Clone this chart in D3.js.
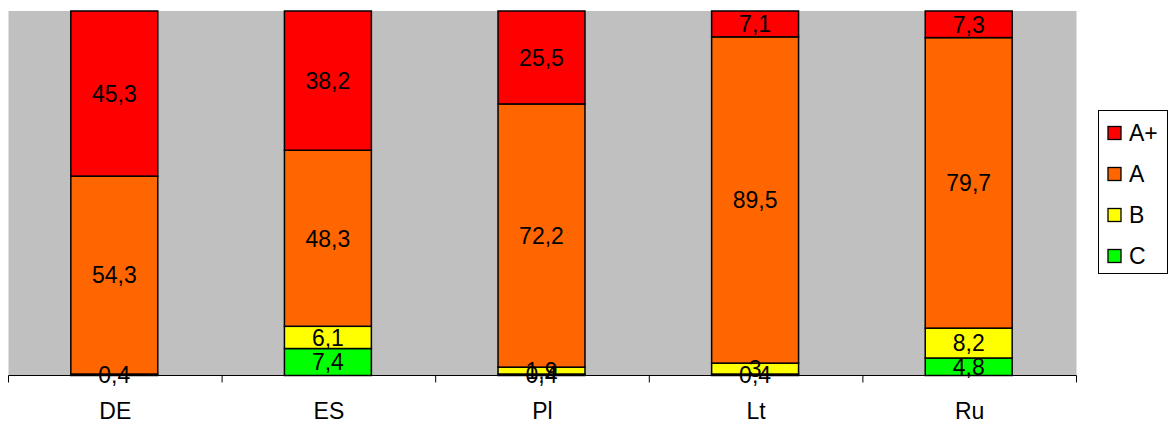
<!DOCTYPE html>
<html><head><meta charset="utf-8">
<script src="https://cdn.jsdelivr.net/npm/d3@7"></script>
<style>body{margin:0;background:#fff}svg{display:block}text{font-family:"Liberation Sans",Arial,sans-serif}</style>
</head><body>
<svg id="c" width="1169" height="424"></svg>
<script>
const categories = ["DE","ES","Pl","Lt","Ru"];
const seriesNames = ["C","B","A","A+"];
const valC  = [0,   7.4, 0.4, 0.4, 4.8];
const valB  = [0.4, 6.1, 1.9, 3,   8.2];
const valA  = [54.3,48.3,72.2,89.5,79.7];
const valAp = [45.3,38.2,25.5,7.1, 7.3];
const colors = {"A+":"#FF0000","A":"#FF6600","B":"#FFFF00","C":"#00FF00"};
const legendOrder = ["A+","A","B","C"];

const rows = categories.map((c,i)=>({cat:c,"C":valC[i],"B":valB[i],"A":valA[i],"A+":valAp[i]}));
const svg = d3.select("#c");
const L=8.5,R=1076.5,T=11,B=375.5;
const FS=23;
const x = d3.scaleBand().domain(categories).range([L,R]).paddingInner(0.593).paddingOuter(0.2965);
const y = d3.scaleLinear().domain([0,100]).range([B,T]);

svg.append("rect").attr("x",L).attr("y",T).attr("width",R-L).attr("height",B-T).attr("fill","#C0C0C0");

const stack = d3.stack().keys(seriesNames)(rows);
const g = svg.append("g").attr("transform","translate(-1,0)");
stack.forEach(layer=>{
  g.selectAll(null).data(layer).join("rect")
   .attr("x",d=>x(d.data.cat)).attr("width",x.bandwidth())
   .attr("y",d=>y(d[1])).attr("height",d=>y(d[0])-y(d[1]))
   .attr("fill",colors[layer.key]).attr("stroke","#000").attr("stroke-width",1.5);
});
stack.forEach(layer=>{
  g.selectAll(null).data(layer.filter(d=>d[1]-d[0]>0)).join("text")
   .attr("x",d=>x(d.data.cat)+x.bandwidth()/2).attr("y",d=>(y(d[0])+y(d[1]))/2)
   .attr("dy","0.36em").attr("text-anchor","middle").attr("font-size",FS).attr("fill","#000")
   .text(d=>String(d.data[layer.key]).replace(".",","));
});

const ax = svg.append("g").attr("transform",`translate(0,${B})`)
  .call(d3.axisBottom(x).tickSize(0).tickPadding(0).tickFormat(""));
ax.select(".domain").attr("stroke","#000").attr("stroke-width",1).attr("d",`M${L},0H${R}`);
const edges = categories.map(c=>x(c)-x.step()*x.paddingOuter()).concat([R]);
svg.append("g").selectAll("line").data(edges).join("line")
  .attr("x1",d=>d).attr("x2",d=>d).attr("y1",B).attr("y2",B+7).attr("stroke","#000");
svg.append("g").selectAll("text").data(categories).join("text")
  .attr("x",c=>x(c)+x.bandwidth()/2).attr("y",419).attr("text-anchor","middle")
  .attr("font-size",FS).text(c=>c);

const lg = svg.append("g");
lg.append("rect").attr("x",1098.5).attr("y",110.5).attr("width",69).attr("height",163).attr("fill","#fff").attr("stroke","#000");
legendOrder.forEach((k,i)=>{
  const cy = 133+i*41;
  lg.append("rect").attr("x",1108).attr("y",cy-6.5).attr("width",13).attr("height",13).attr("fill",colors[k]).attr("stroke","#000").attr("stroke-width",1.3);
  lg.append("text").attr("x",1129).attr("y",cy).attr("dy","0.36em").attr("font-size",FS).text(k);
});
</script></body></html>
